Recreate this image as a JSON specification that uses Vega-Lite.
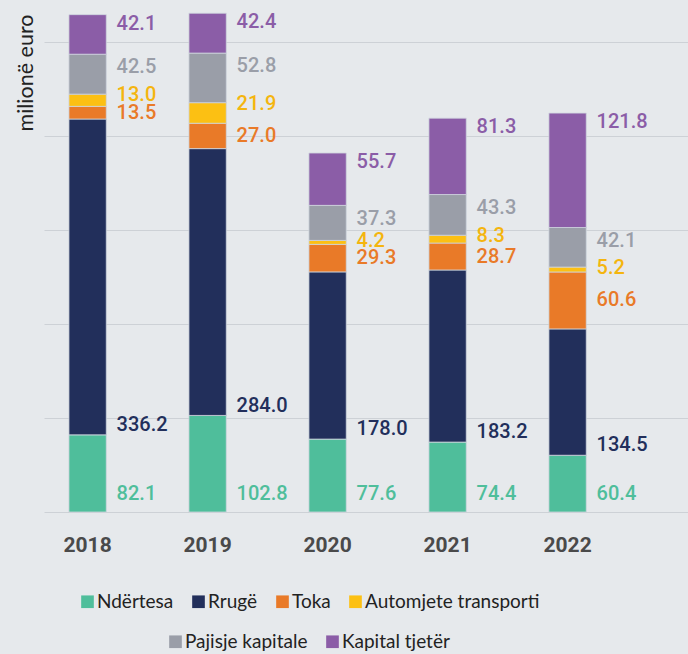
{
  "$schema": "https://vega.github.io/schema/vega-lite/v6.json",
  "autosize": "none",
  "width": 644,
  "height": 512,
  "padding": {"left": 44, "top": 0, "right": 0, "bottom": 142},
  "background": "#e6e9ec",
  "config": {"view": {"stroke": null}},
  "data": {"values": [
    {"year": "2018", "cat": "Ndërtesa", "value": 82.1},
    {"year": "2018", "cat": "Rrugë", "value": 336.2},
    {"year": "2018", "cat": "Toka", "value": 13.5},
    {"year": "2018", "cat": "Automjete transporti", "value": 13.0},
    {"year": "2018", "cat": "Pajisje kapitale", "value": 42.5},
    {"year": "2018", "cat": "Kapital tjetër", "value": 42.1},
    {"year": "2019", "cat": "Ndërtesa", "value": 102.8},
    {"year": "2019", "cat": "Rrugë", "value": 284.0},
    {"year": "2019", "cat": "Toka", "value": 27.0},
    {"year": "2019", "cat": "Automjete transporti", "value": 21.9},
    {"year": "2019", "cat": "Pajisje kapitale", "value": 52.8},
    {"year": "2019", "cat": "Kapital tjetër", "value": 42.4},
    {"year": "2020", "cat": "Ndërtesa", "value": 77.6},
    {"year": "2020", "cat": "Rrugë", "value": 178.0},
    {"year": "2020", "cat": "Toka", "value": 29.3},
    {"year": "2020", "cat": "Automjete transporti", "value": 4.2},
    {"year": "2020", "cat": "Pajisje kapitale", "value": 37.3},
    {"year": "2020", "cat": "Kapital tjetër", "value": 55.7},
    {"year": "2021", "cat": "Ndërtesa", "value": 74.4},
    {"year": "2021", "cat": "Rrugë", "value": 183.2},
    {"year": "2021", "cat": "Toka", "value": 28.7},
    {"year": "2021", "cat": "Automjete transporti", "value": 8.3},
    {"year": "2021", "cat": "Pajisje kapitale", "value": 43.3},
    {"year": "2021", "cat": "Kapital tjetër", "value": 81.3},
    {"year": "2022", "cat": "Ndërtesa", "value": 60.4},
    {"year": "2022", "cat": "Rrugë", "value": 134.5},
    {"year": "2022", "cat": "Toka", "value": 60.6},
    {"year": "2022", "cat": "Automjete transporti", "value": 5.2},
    {"year": "2022", "cat": "Pajisje kapitale", "value": 42.1},
    {"year": "2022", "cat": "Kapital tjetër", "value": 121.8}
  ]},
  "transform": [
    {"calculate": "indexof(['Ndërtesa','Rrugë','Toka','Automjete transporti','Pajisje kapitale','Kapital tjetër'], datum.cat)", "as": "k"},
    {"stack": "value", "groupby": ["year"], "sort": [{"field": "k", "order": "ascending"}], "as": ["y0", "y1"]},
    {"calculate": "datum.k == 5 ? datum.y1 - 9.5 : datum.k == 4 ? datum.y1 - 14 : datum.k == 3 ? datum.y1 - 1 : datum.k == 2 ? (datum.y0 + datum.y1) / 2 : datum.k == 1 ? datum.y0 + 10.5 : 19", "as": "ly"}
  ],
  "encoding": {
    "x": {
      "field": "year", "type": "nominal",
      "scale": {"paddingInner": 0.689, "paddingOuter": 0.528, "align": 0.197},
      "axis": {"title": null, "labelAngle": 0, "ticks": false, "domain": false, "labelPadding": 22,
               "labelFont": "Roboto", "labelFontWeight": "bold", "labelFontSize": 21, "labelColor": "#4a4a4a"}
    }
  },
  "layer": [
    {
      "mark": {"type": "bar", "stroke": "#cfd5de", "strokeWidth": 0.8},
      "encoding": {
        "y": {"field": "y1", "type": "quantitative",
              "scale": {"domain": [0, 545], "nice": false, "zero": true},
              "axis": {"title": "milionë euro", "labels": false, "ticks": false, "domain": false,
                       "values": [0, 100, 200, 300, 400, 500],
                       "gridColor": "#cdd1d6", "gridWidth": 1.2,
                       "titleAngle": 270, "titleAlign": "right", "titleBaseline": "middle",
                       "titleX": -18, "titleY": 14, "titleFont": "Lato", "titleFontWeight": "normal",
                       "titleFontSize": 21.5, "titleColor": "#222222"}},
        "y2": {"field": "y0"},
        "fill": {"field": "cat", "type": "nominal",
                 "scale": {"domain": ["Ndërtesa", "Rrugë", "Toka", "Automjete transporti", "Pajisje kapitale", "Kapital tjetër"],
                           "range": ["#4fbe9b", "#222f5b", "#e97a28", "#fcc013", "#9a9ea8", "#8b5da7"]},
                 "legend": {"values": ["Ndërtesa", "Rrugë", "Toka", "Automjete transporti"],
                            "orient": "none", "legendX": 34, "legendY": 592, "direction": "horizontal",
                            "title": null, "symbolType": "square", "symbolSize": 160, "symbolStrokeWidth": 0,
                            "labelFont": "Lato", "labelFontSize": 19, "labelColor": "#222222", "labelLimit": 0,
                            "labelOffset": 0, "columnPadding": 15, "padding": 0}}
      }
    },
    {
      "mark": {"type": "text", "align": "left", "baseline": "middle", "dx": 29,
               "font": "Roboto", "fontWeight": 500, "fontSize": 20},
      "encoding": {
        "y": {"field": "ly", "type": "quantitative"},
        "text": {"field": "value", "type": "quantitative", "format": ".1f"},
        "color": {"field": "cat", "type": "nominal",
                  "scale": {"domain": ["Kapital tjetër", "Pajisje kapitale", "Automjete transporti", "Toka", "Rrugë", "Ndërtesa"],
                            "range": ["#8b5da7", "#9a9ea8", "#f4b50f", "#e97a28", "#222f5b", "#4fbe9b"]},
                  "legend": {"values": ["Pajisje kapitale", "Kapital tjetër"],
                             "orient": "none", "legendX": 122, "legendY": 632, "direction": "horizontal",
                             "title": null, "symbolType": "square", "symbolSize": 160, "symbolStrokeWidth": 0,
                             "symbolOpacity": 1,
                             "labelFont": "Lato", "labelFontSize": 19, "labelColor": "#222222", "labelLimit": 0,
                             "labelOffset": 0, "columnPadding": 15, "padding": 0}}
      }
    }
  ]
}
